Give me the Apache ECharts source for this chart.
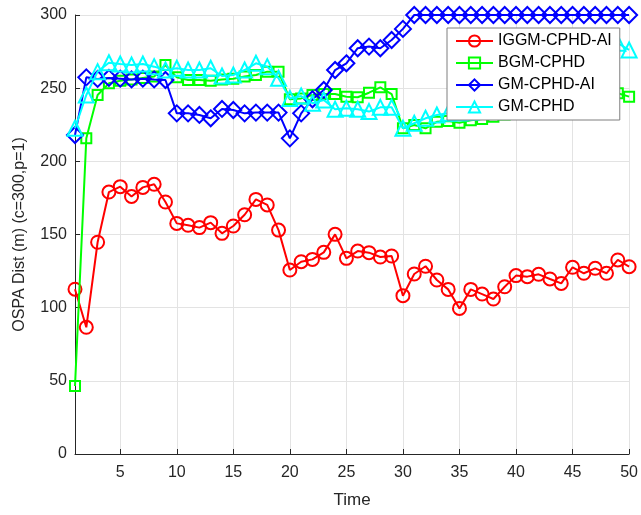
<!DOCTYPE html>
<html>
<head>
<meta charset="utf-8">
<script src="https://cdn.jsdelivr.net/npm/echarts@6/dist/echarts.min.js"></script>
<style>
	html, body { margin: 0; padding: 0; background: #fff; }
	#chart { width: 641px; height: 515px; }
</style>
</head>
<body>
<div id="chart"></div>
<script>
	// 时间轴 1..50
	var time = [];
	for (var t = 1; t <= 50; t++) time.push(t);

	var xTicks = [5, 10, 15, 20, 25, 30, 35, 40, 45, 50];

	var iggmCphdAi = [112.6, 86.6, 144.7, 179, 182.7, 176, 182.2, 184.3, 172.2, 157.6,
		156.3, 154.7, 158.1, 150.8, 155.8, 163.5, 174, 170.2, 153, 125.7,
		131.4, 133, 137.8, 150.1, 133.7, 138.7, 137.6, 134.6, 135.3, 108.2,
		123, 128.3, 118.9, 112.5, 99.5, 112.5, 109.3, 105.9, 114.3, 121.9,
		121.2, 122.8, 119.6, 116.6, 127.6, 123.5, 126.9, 123.5, 132.6, 128];

	var bgmCphd = [46.5, 215.7, 245.3, 253.3, 255, 256, 257, 258, 265.8, 257.4,
		255.6, 255.5, 255, 256, 256.5, 258, 259, 261.3, 261.3, 242.4,
		243, 245.3, 246, 246, 244.2, 243.8, 246.9, 250.6, 246, 222.6,
		224.8, 222.6, 227, 227.5, 226.4, 228, 229, 230.5, 232, 234,
		236, 238, 240, 241, 243, 244, 246, 245.8, 246.5, 244.2];

	var gmCphdAi = [218, 257.4, 256.3, 257, 256.5, 256, 256.5, 256, 255.6, 232.8,
		232.8, 231.7, 229.4, 235.8, 235.1, 232.8, 233.3, 233.3, 233.3, 215.7,
		232.8, 242.4, 248.8, 262.4, 267, 277.3, 278.4, 277.3, 282.9, 290.5,
		300, 300, 300, 300, 300, 300, 300, 300, 300, 300,
		300, 300, 300, 300, 300, 300, 300, 300, 300, 300];

	var gmCphd = [222.6, 245.3, 261.3, 267.4, 266.5, 265.8, 266.5, 264.7, 262.4, 263.6,
		262.4, 262.4, 263.6, 258.3, 259, 262.4, 267, 264.7, 256.8, 243,
		244.6, 239.7, 241.9, 235.6, 236.2, 235.6, 234, 236.9, 236.9, 222.6,
		226, 229.4, 231.7, 232.8, 233, 233.5, 234, 235, 238, 242,
		246, 251, 256, 261, 266, 270, 273, 276, 280.7, 276.1];

	var seriesNames = ['IGGM-CPHD-AI', 'BGM-CPHD', 'GM-CPHD-AI', 'GM-CPHD'];
	var seriesColors = ['#ff0000', '#00ff00', '#0000ff', '#00ffff'];
	var seriesSymbols = ['circle', 'rect', 'diamond', 'triangle'];
	var seriesSizes = [13, 10, 16, 15];
	var seriesData = [iggmCphdAi, bgmCphd, gmCphdAi, gmCphd];

	var font = 'Liberation Sans, Arial, Helvetica, sans-serif';
	var textColor = '#262626';

	var chart = echarts.init(document.getElementById('chart'));

	var series = [];
	for (var i = 0; i < seriesNames.length; i++) {
		var pts = [];
		for (var j = 0; j < time.length; j++) pts.push([time[j], seriesData[i][j]]);
		series.push({
			name: seriesNames[i],
			type: 'line',
			data: pts,
			symbol: seriesSymbols[i],
			symbolSize: seriesSizes[i],
			showAllSymbol: true,
			lineStyle: { color: seriesColors[i], width: 2 },
			itemStyle: { color: 'rgba(255,255,255,0)', borderColor: seriesColors[i], borderWidth: 2 },
			emphasis: { disabled: true },
			animation: false,
			z: 2 + i
		});
	}

	var option = {
		animation: false,
		textStyle: { fontFamily: font },
		grid: { left: 75, right: 10, top: 15, bottom: 61 },
		legend: {
			data: seriesNames,
			orient: 'vertical',
			left: 447,
			top: 28,
			width: 172,
			padding: [5, 8, 5, 8],
			itemGap: 6,
			itemWidth: 37,
			itemHeight: 14,
			backgroundColor: '#fff',
			borderColor: '#7f7f7f',
			borderWidth: 1,
			z: 10,
			textStyle: { fontFamily: font, fontSize: 16, color: '#000' }
		},
		xAxis: {
			type: 'value',
			min: 1,
			max: 50,
			name: 'Time',
			nameLocation: 'middle',
			nameGap: 38,
			nameTextStyle: { fontFamily: font, fontSize: 17, color: textColor },
			axisLine: { show: true, onZero: false, lineStyle: { color: textColor, width: 1 } },
			axisTick: { show: true, inside: true, length: 5, customValues: xTicks, lineStyle: { color: textColor } },
			axisLabel: { customValues: xTicks, fontSize: 16, color: textColor, margin: 11 },
			splitLine: { show: true, lineStyle: { color: '#e3e3e3', width: 1 } }
		},
		yAxis: {
			type: 'value',
			min: 0,
			max: 300,
			interval: 50,
			name: 'OSPA Dist (m) (c=300,p=1)',
			nameLocation: 'middle',
			nameGap: 47,
			nameTextStyle: { fontFamily: font, fontSize: 16, color: textColor },
			axisLine: { show: true, lineStyle: { color: textColor, width: 1 } },
			axisTick: { show: true, inside: true, length: 5, lineStyle: { color: textColor } },
			axisLabel: { fontSize: 16, color: textColor, margin: 8 },
			splitLine: { show: true, lineStyle: { color: '#e3e3e3', width: 1 } }
		},
		series: series
	};

	chart.setOption(option);
</script>
</body>
</html>
